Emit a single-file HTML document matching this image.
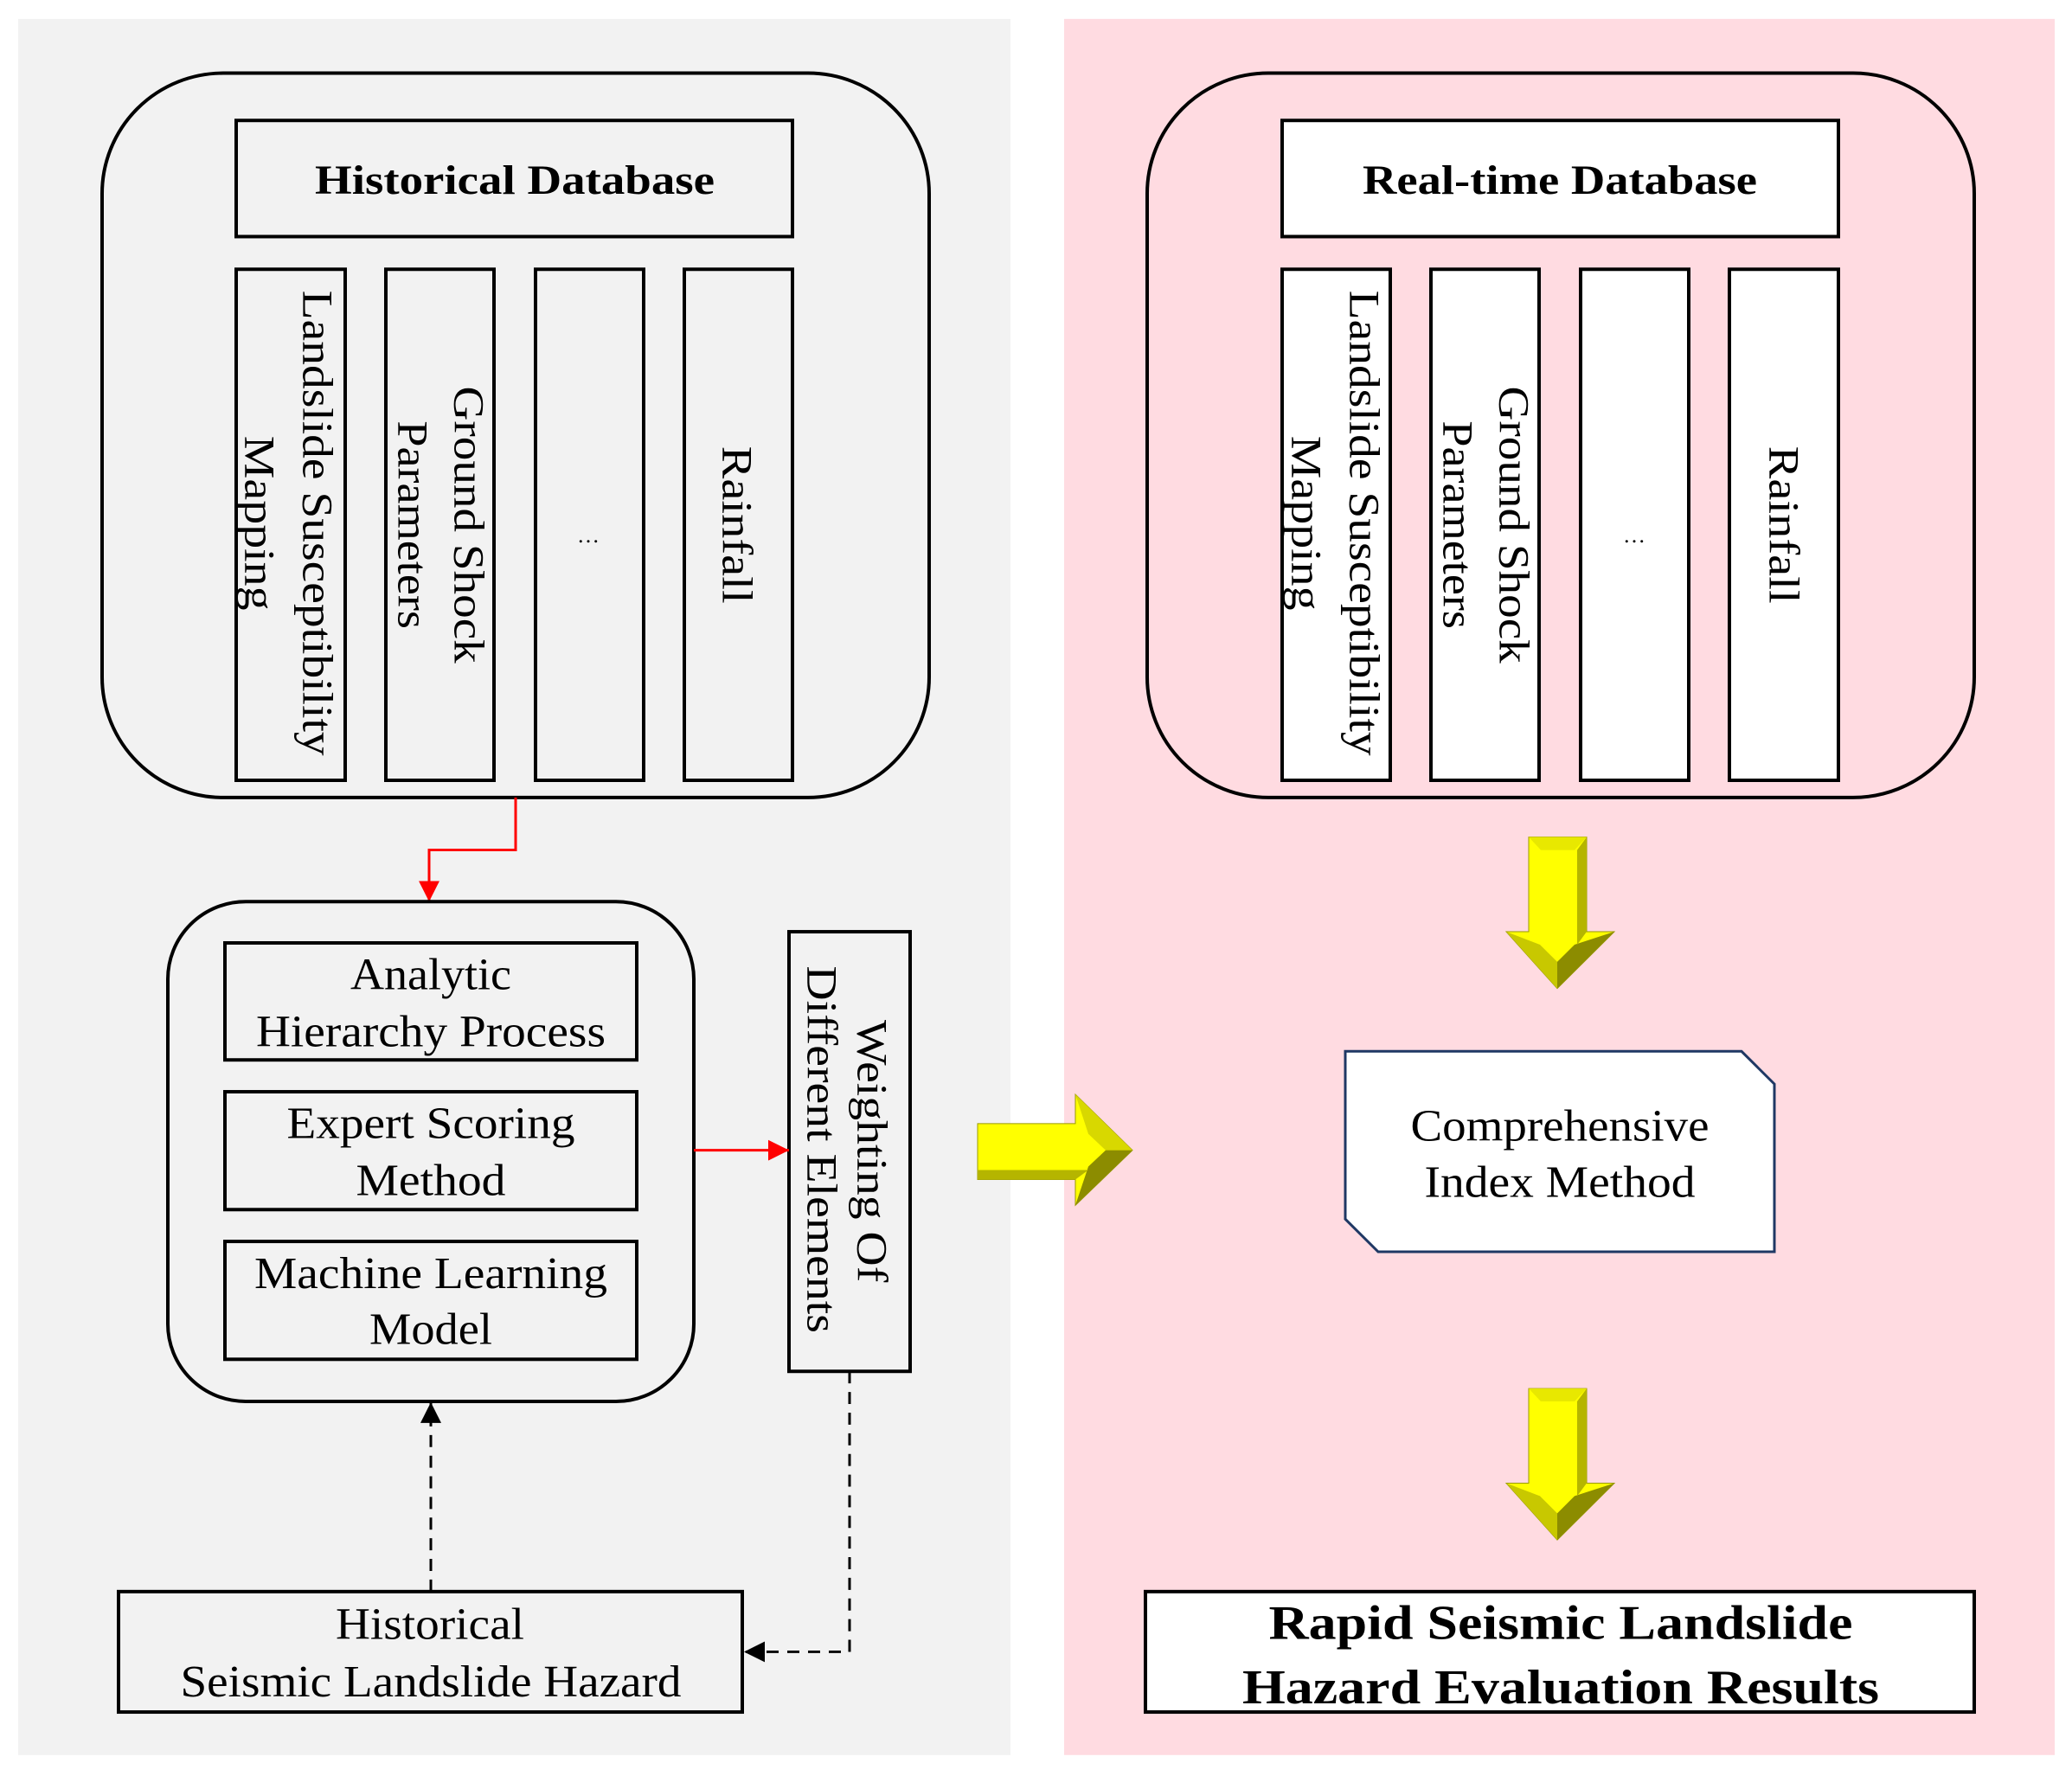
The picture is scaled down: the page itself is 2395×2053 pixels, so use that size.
<!DOCTYPE html>
<html><head><meta charset="utf-8"><style>
html,body{margin:0;padding:0;background:#fff;}
svg{display:block}
text{font-family:"Liberation Serif",serif;fill:#000}
</style></head><body>
<svg width="2395" height="2053" viewBox="0 0 2395 2053" xmlns="http://www.w3.org/2000/svg">
<defs>
<marker id="rha" viewBox="0 0 10 10" refX="10" refY="5" markerWidth="24" markerHeight="24" orient="auto" markerUnits="userSpaceOnUse"><path d="M0,0L10,5L0,10z" fill="red"/></marker>
<marker id="bha" viewBox="0 0 10 10" refX="10" refY="5" markerWidth="24" markerHeight="24" orient="auto" markerUnits="userSpaceOnUse"><path d="M0,0L10,5L0,10z" fill="#000"/></marker>
</defs>
<g transform="scale(1,0.9945)">
<rect x="21" y="22" width="1147" height="2018" fill="#f2f2f2"/>
<rect x="1230" y="22" width="1145" height="2018" fill="#ffdbe1"/>

<g fill="none" stroke="#000" stroke-width="4">
<rect x="118" y="85" width="956" height="842" rx="140"/>
<rect x="1326" y="85" width="956" height="842" rx="140"/>
</g>
<g fill="#fff" stroke="#000" stroke-width="4">
<rect x="273" y="140" width="643" height="135" fill="none"/>
<rect x="273" y="313" width="126" height="594" fill="none"/>
<rect x="446" y="313" width="125" height="594" fill="none"/>
<rect x="619" y="313" width="125" height="594" fill="none"/>
<rect x="791" y="313" width="125" height="594" fill="none"/>
<rect x="1482" y="140" width="643" height="135"/>
<rect x="1482" y="313" width="125" height="594"/>
<rect x="1654" y="313" width="125" height="594"/>
<rect x="1827" y="313" width="125" height="594"/>
<rect x="1999" y="313" width="126" height="594"/>
</g>
<text x="595" y="225" font-size="48" font-weight="bold" text-anchor="middle" textLength="462" lengthAdjust="spacingAndGlyphs">Historical Database</text>
<text x="1803" y="225" font-size="48" font-weight="bold" text-anchor="middle" textLength="456" lengthAdjust="spacingAndGlyphs">Real-time Database</text>

<g font-size="50" text-anchor="middle" dominant-baseline="central">
<text transform="translate(367,608) rotate(90)" textLength="541" lengthAdjust="spacingAndGlyphs">Landslide Susceptibility</text>
<text transform="translate(300,608) rotate(90)" textLength="203" lengthAdjust="spacingAndGlyphs">Mapping</text>
<text transform="translate(542,610) rotate(90)" textLength="322" lengthAdjust="spacingAndGlyphs">Ground Shock</text>
<text transform="translate(477,610) rotate(90)" textLength="242" lengthAdjust="spacingAndGlyphs">Parameters</text>
<text x="680" y="622" font-size="26" fill="#777">…</text>
<text transform="translate(852,610) rotate(90)" textLength="183" lengthAdjust="spacingAndGlyphs">Rainfall</text>
<text transform="translate(1577,608) rotate(90)" textLength="541" lengthAdjust="spacingAndGlyphs">Landslide Susceptibility</text>
<text transform="translate(1510,608) rotate(90)" textLength="203" lengthAdjust="spacingAndGlyphs">Mapping</text>
<text transform="translate(1750,610) rotate(90)" textLength="322" lengthAdjust="spacingAndGlyphs">Ground Shock</text>
<text transform="translate(1685,610) rotate(90)" textLength="242" lengthAdjust="spacingAndGlyphs">Parameters</text>
<text x="1889" y="622" font-size="26" fill="#777">…</text>
<text transform="translate(2062,610) rotate(90)" textLength="183" lengthAdjust="spacingAndGlyphs">Rainfall</text>
<text transform="translate(1008,1338) rotate(90)" textLength="305" lengthAdjust="spacingAndGlyphs">Weighting Of</text>
<text transform="translate(950,1336) rotate(90)" textLength="427" lengthAdjust="spacingAndGlyphs">Different Elements</text>
</g>

<polyline points="596,927 596,988 496,988 496,1048" fill="none" stroke="red" stroke-width="3" marker-end="url(#rha)"/>

<rect x="194" y="1048" width="608" height="581" rx="90" fill="none" stroke="#000" stroke-width="4"/>
<g fill="none" stroke="#000" stroke-width="4">
<rect x="260" y="1096" width="476" height="136"/>
<rect x="260" y="1269" width="476" height="137"/>
<rect x="260" y="1443" width="476" height="137"/>
<rect x="912" y="1083" width="140" height="511"/>
<rect x="137" y="1850" width="721" height="140"/>
</g>
<g font-size="52" text-anchor="middle">
<text x="498" y="1150" textLength="186" lengthAdjust="spacingAndGlyphs">Analytic</text>
<text x="498" y="1216" textLength="404" lengthAdjust="spacingAndGlyphs">Hierarchy Process</text>
<text x="498" y="1323" textLength="333" lengthAdjust="spacingAndGlyphs">Expert Scoring</text>
<text x="498" y="1389" textLength="173" lengthAdjust="spacingAndGlyphs">Method</text>
<text x="498" y="1497" textLength="408" lengthAdjust="spacingAndGlyphs">Machine Learning</text>
<text x="498" y="1562" textLength="142" lengthAdjust="spacingAndGlyphs">Model</text>
<text x="497" y="1905" textLength="218" lengthAdjust="spacingAndGlyphs">Historical</text>
<text x="498" y="1972" textLength="579" lengthAdjust="spacingAndGlyphs">Seismic Landslide Hazard</text>
</g>
<line x1="802" y1="1337" x2="912" y2="1337" stroke="red" stroke-width="3" marker-end="url(#rha)"/>

<polyline points="982,1594 982,1920 860,1920" fill="none" stroke="#000" stroke-width="3" stroke-dasharray="14,10" marker-end="url(#bha)"/>
<line x1="498" y1="1850" x2="498" y2="1630" stroke="#000" stroke-width="3" stroke-dasharray="14,10" marker-end="url(#bha)"/>

<g>
<polygon points="1130,1306 1243,1306 1243,1272 1309,1337 1243,1401 1243,1371 1130,1371" fill="#ffff00" stroke="#9a9a00" stroke-width="1"/>
<polygon points="1243,1272 1309,1337 1278,1337 1258,1318" fill="#d8d800"/>
<polygon points="1243,1401 1309,1337 1278,1337 1258,1356" fill="#8c8c00"/>
<polygon points="1130,1360 1258,1360 1243,1371 1130,1371" fill="#b5b500"/>
</g>
<g id="da">
<polygon points="1767,973 1834,973 1834,1083 1866,1083 1800,1149 1741,1083 1767,1083" fill="#ffff00" stroke="#9a9a00" stroke-width="1"/>
<polygon points="1741,1083 1800,1149 1800,1118 1780,1098" fill="#c8c800"/>
<polygon points="1866,1083 1800,1149 1800,1118 1820,1098" fill="#8c8c00"/>
<polygon points="1767,973 1834,973 1820,988 1781,988" fill="#e8e800"/>
<polygon points="1823,988 1834,973 1834,1083 1823,1098" fill="#b5b500"/>
</g>
<use href="#da" transform="translate(0,641)"/>

<polygon points="1555,1222 2013,1222 2051,1260 2051,1455 1593,1455 1555,1417" fill="#fff" stroke="#1f3864" stroke-width="3"/>
<g font-size="52" text-anchor="middle">
<text x="1803" y="1326" textLength="345" lengthAdjust="spacingAndGlyphs">Comprehensive</text>
<text x="1803" y="1391" textLength="313" lengthAdjust="spacingAndGlyphs">Index Method</text>
</g>
<rect x="1324" y="1850" width="958" height="140" fill="#fff" stroke="#000" stroke-width="4"/>
<g font-size="56" font-weight="bold" text-anchor="middle">
<text x="1804" y="1905" textLength="675" lengthAdjust="spacingAndGlyphs">Rapid Seismic Landslide</text>
<text x="1804" y="1980" textLength="736" lengthAdjust="spacingAndGlyphs">Hazard Evaluation Results</text>
</g>
</g>
</svg>
</body></html>
